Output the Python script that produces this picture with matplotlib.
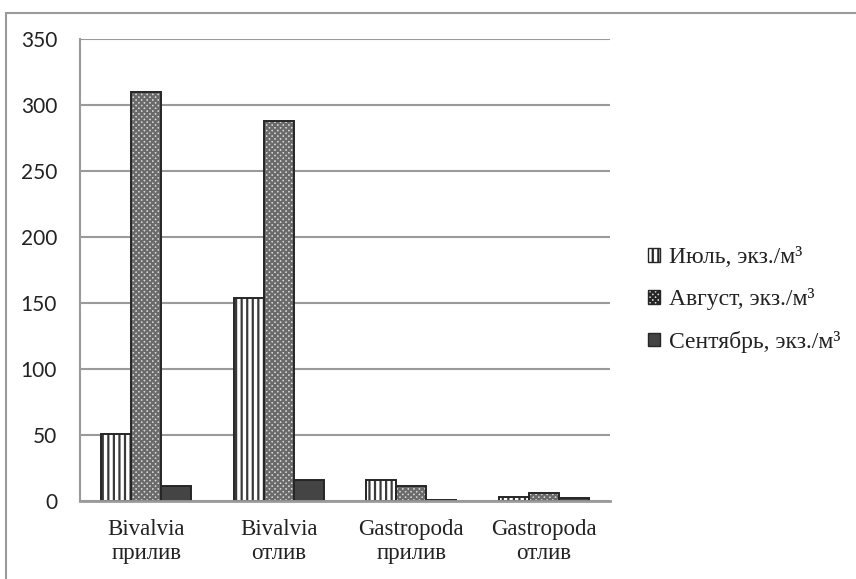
import matplotlib
matplotlib.use("Agg")
import matplotlib.pyplot as plt
import numpy as np
from matplotlib.patches import Rectangle, Patch

categories = ["Bivalvia\nприлив", "Bivalvia\nотлив", "Gastropoda\nприлив", "Gastropoda\nотлив"]
series_names = ["Июль, экз./м³", "Август, экз./м³", "Сентябрь, экз./м³"]
july = [51, 154, 16, 3]
august = [310, 288, 11, 6]
september = [11, 16, 1, 2]
yticks = [0, 50, 100, 150, 200, 250, 300, 350]

plt.rcParams['hatch.linewidth'] = 1.6

fig = plt.figure(figsize=(8.56, 5.79), dpi=100)
ax = fig.add_axes([80/856, 1-501/579, 530/856, 462/579])

x = np.arange(len(categories))
w = 0.226
styles = [
    dict(face="white", hatch="|||", hc="#3a3a3a"),
    dict(face="#d8d8d8", hatch="xxxxxx", hc="#6a6a6a"),
    dict(face="#444444", hatch=None, hc="#444444"),
]
data = [july, august, september]
for i, (vals, st) in enumerate(zip(data, styles)):
    pos = x + (i - 1) * w
    ax.bar(pos, vals, w, color=st["face"], edgecolor=st["hc"], hatch=st["hatch"], linewidth=0, zorder=3)
    ax.bar(pos, vals, w, fill=False, edgecolor="#262626", linewidth=1.4, zorder=4)

ax.set_xlim(-0.5, 3.5)
ax.set_ylim(0, 350)
ax.set_yticks(yticks)
ax.set_yticklabels([str(t) for t in yticks], fontfamily="Lato", fontsize=15, color="#222222")
ax.set_xticks(x)
ax.set_xticklabels(categories, fontfamily="Liberation Serif", fontsize=16.5, color="#222222", linespacing=1.18)
ax.tick_params(axis="both", length=0)
ax.tick_params(axis="y", pad=16.5)
ax.tick_params(axis="x", pad=13)
ax.yaxis.grid(True, color="#9a9a9a", linewidth=1.5, zorder=0)
for s in ["top", "right"]:
    ax.spines[s].set_visible(False)
ax.spines["left"].set_color("#9a9a9a")
ax.spines["left"].set_linewidth(1.5)
ax.spines["bottom"].set_color("#9a9a9a")
ax.spines["bottom"].set_linewidth(2)
ax.spines["bottom"].set_zorder(5)

handles = [Patch(facecolor=st["face"], edgecolor="#262626", hatch=st["hatch"], linewidth=1.0) for st in styles]
leg = fig.legend(handles, series_names, loc="center left", bbox_to_anchor=(648/856, 1-300/579),
                 frameon=False, prop={"family": "Liberation Serif", "size": 17},
                 handlelength=0.5, handleheight=0.5, handletextpad=0.4, labelspacing=0.86,
                 borderpad=0, borderaxespad=0)
for t in leg.get_texts():
    t.set_color("#222222")

fig.patches.append(Rectangle((6/856, -0.1), 1.2, 1 - 13/579 + 0.1, transform=fig.transFigure,
                             fill=False, edgecolor="#9a9a9a", linewidth=1.5))

fig.savefig("out.png", dpi=100)
